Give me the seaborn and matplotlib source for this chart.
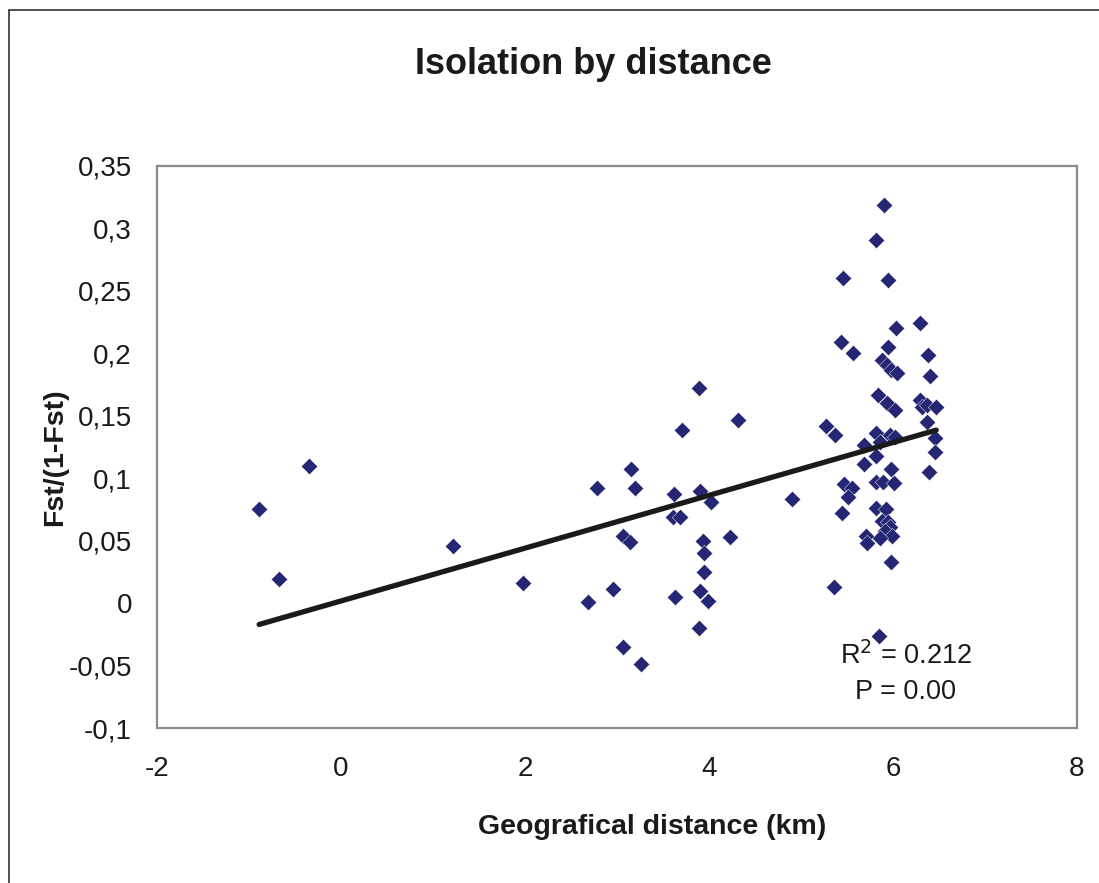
import pandas as pd
import seaborn as sns
import matplotlib.pyplot as plt
from matplotlib.lines import Line2D

sns.set_style("white")
plt.rcParams['font.family'] = ['Liberation Sans', 'DejaVu Sans']

# Dados
distance_km = [
    -0.89, -0.67, -0.35, 1.22, 1.98,
    3.89, 4.32, 3.71, 3.15, 2.78, 3.20, 3.62, 3.90, 4.02, 3.61, 3.69, 3.06, 3.14,
    3.94, 4.23, 3.95, 3.95, 2.96, 2.68, 3.63, 3.90, 3.99, 3.89, 3.07, 3.26,
    5.905, 5.81, 5.46, 5.95, 6.29, 6.03, 5.43, 5.57, 5.95, 6.38, 5.875, 5.93, 5.98,
    6.04, 6.40, 5.84, 5.93, 6.02, 6.29, 6.31, 6.37, 6.47, 6.37, 5.27, 5.37,
    5.82, 5.97, 6.02, 5.86, 5.68, 6.46, 6.46, 5.82, 5.69, 5.98, 6.39, 5.47, 5.55,
    5.51, 5.82, 5.89, 6.01, 4.90, 5.45, 5.82, 5.92, 5.88, 5.95, 5.97, 5.91, 5.99,
    5.86, 5.71, 5.72, 5.98, 5.36, 5.85,
]
fst_ratio = [
    0.075, 0.019, 0.110, 0.046, 0.016,
    0.172, 0.147, 0.139, 0.107, 0.092, 0.092, 0.087, 0.090, 0.081, 0.069, 0.069, 0.054, 0.049,
    0.050, 0.053, 0.040, 0.025, 0.011, 0.001, 0.005, 0.010, 0.002, -0.020, -0.035, -0.049,
    0.319, 0.291, 0.260, 0.259, 0.224, 0.220, 0.209, 0.200, 0.205, 0.199, 0.195, 0.191, 0.187,
    0.184, 0.182, 0.167, 0.160, 0.155, 0.163, 0.157, 0.159, 0.157, 0.145, 0.142, 0.135,
    0.136, 0.135, 0.133, 0.129, 0.127, 0.132, 0.121, 0.118, 0.111, 0.107, 0.105, 0.095, 0.092,
    0.085, 0.097, 0.097, 0.096, 0.083, 0.072, 0.076, 0.075, 0.066, 0.065, 0.061, 0.058, 0.054,
    0.052, 0.054, 0.048, 0.033, 0.013, -0.026,
]
x_ticks = [-2, 0, 2, 4, 6, 8]
y_ticks = [0.35, 0.3, 0.25, 0.2, 0.15, 0.1, 0.05, 0, -0.05, -0.1]
y_tick_labels = ["0,35", "0,3", "0,25", "0,2", "0,15", "0,1", "0,05", "0", "-0,05", "-0,1"]

df = pd.DataFrame({"dist": distance_km, "fst": fst_ratio})

fig = plt.figure(figsize=(10.99, 8.83), dpi=100)
ax = fig.add_axes([157 / 1099, 1 - 728 / 883, 920 / 1099, 562 / 883])

sns.regplot(data=df, x="dist", y="fst", ci=None, ax=ax, marker="D",
            scatter_kws={"s": 70, "color": "#252775", "edgecolors": "white",
                         "linewidths": 0.3, "alpha": 1},
            line_kws={"color": "#1a1a1a", "linewidth": 3.8, "solid_capstyle": "round"})

ax.set_xlim(-2, 8)
ax.set_ylim(-0.1, 0.35)
ax.set_xticks(x_ticks)
ax.set_xticklabels([str(t) for t in x_ticks])
ax.set_yticks(y_ticks)
ax.set_yticklabels(y_tick_labels)
ax.tick_params(axis="both", which="both", direction="out", length=8, width=1.3,
               color="#555555", labelsize=20, labelcolor="#1a1a1a", pad=10)
ax.tick_params(axis="x", pad=12)
for sp in ax.spines.values():
    sp.set_visible(True)
    sp.set_color("#8c8c8c")
    sp.set_linewidth(1.6)

ax.set_xlabel("Geografical distance (km)", fontsize=20.5, fontweight="bold", color="#1a1a1a")
ax.set_ylabel("Fst/(1-Fst)", fontsize=20.5, fontweight="bold", color="#1a1a1a")
ax.xaxis.set_label_coords(0.538, -0.153)
ax.yaxis.set_label_coords(-0.097, 0.482)

ax.text(6.14, -0.042, "R$^2$ = 0.212", fontsize=19.5, ha="center", va="center", color="#1a1a1a")
ax.text(6.14, -0.071, "P = 0.00", fontsize=19.5, ha="center", va="center", color="#1a1a1a")

fig.text(593 / 1099, 1 - 64 / 883, "Isolation by distance", fontsize=26, fontweight="bold",
         ha="center", va="center", color="#1a1a1a")

# moldura da área do gráfico (só topo e esquerda visíveis)
fig.add_artist(Line2D([9 / 1099, 9 / 1099], [0, 1 - 10 / 883], transform=fig.transFigure,
                      color="#333333", linewidth=1.2))
fig.add_artist(Line2D([9 / 1099, 1], [1 - 10 / 883, 1 - 10 / 883], transform=fig.transFigure,
                      color="#333333", linewidth=1.2))

fig.savefig("out.png", dpi=100)
